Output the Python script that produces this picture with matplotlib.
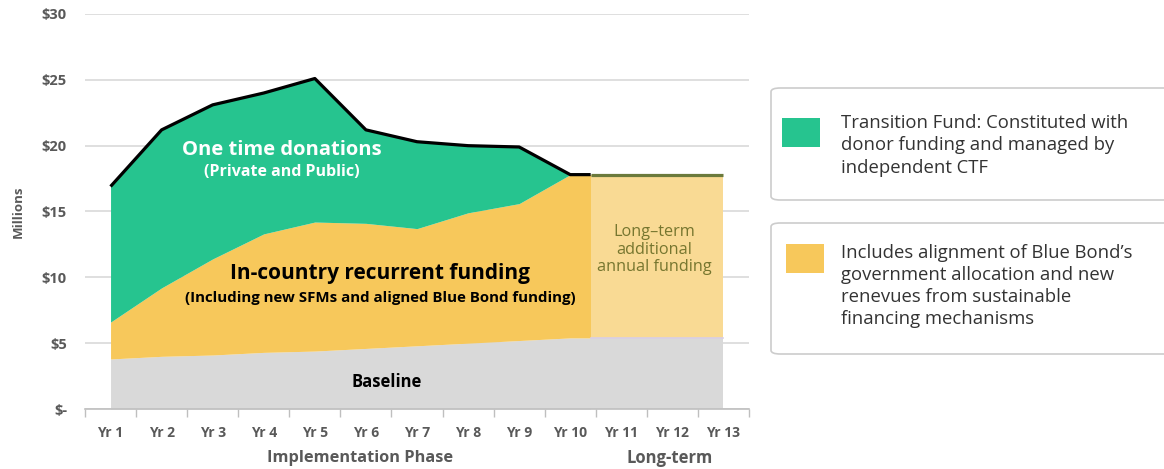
import matplotlib
matplotlib.use("Agg")
import matplotlib.pyplot as plt
from matplotlib.patches import FancyBboxPatch, Rectangle
import numpy as np

# Data (millions USD)
years = ['Yr 1', 'Yr 2', 'Yr 3', 'Yr 4', 'Yr 5', 'Yr 6', 'Yr 7',
         'Yr 8', 'Yr 9', 'Yr 10', 'Yr 11', 'Yr 12', 'Yr 13']
impl_years = years[:10]
baseline = [3.8, 4.0, 4.1, 4.3, 4.4, 4.6, 4.8, 5.0, 5.2, 5.4]
recurrent = [2.8, 5.2, 7.3, 9.0, 9.8, 9.5, 8.9, 9.9, 10.4, 12.4]
donations = [10.3, 12.0, 11.7, 10.7, 10.9, 7.1, 6.6, 5.1, 4.3, 0.0]
lt_years = years[10:]
lt_baseline = [5.4, 5.4, 5.4]
lt_additional = [12.4, 12.4, 12.4]
yticks = [0, 5, 10, 15, 20, 25, 30]
ytick_labels = ['$-', '$5', '$10', '$15', '$20', '$25', '$30']

GREEN = '#26c48f'
YELLOW = '#f7c85b'
LIGHT_YELLOW = '#f9da94'
GREY = '#d9d9d9'
OLIVE = '#6b7a3c'
TXT = '#595959'

plt.rcParams['font.family'] = ['Open Sans', 'DejaVu Sans']

fig = plt.figure(figsize=(11.64, 4.69), dpi=100)
ax = fig.add_axes([85 / 1164, 1 - 409 / 469, 664 / 1164, 395 / 469])

x = np.arange(len(impl_years))
base = np.array(baseline)
rec_top = base + np.array(recurrent)
tot = rec_top + np.array(donations)

# long-term block starts a bit after Yr 10
lt_start = 9.4
xl = np.concatenate([[lt_start], np.arange(len(impl_years), len(years))])
lt_b = np.concatenate([[lt_baseline[0]], lt_baseline])
lt_t = lt_b + np.concatenate([[lt_additional[0]], lt_additional])

# stretch the last implementation values flat up to the long-term block
xi = np.append(x, lt_start)
base_i = np.append(base, base[-1])
rec_i = np.append(rec_top, rec_top[-1])
tot_i = np.append(tot, tot[-1])

ax.fill_between(xi, 0, base_i, color=GREY, lw=0, zorder=2)
ax.fill_between(xi, base_i, rec_i, color=YELLOW, lw=0, zorder=2)
ax.fill_between(xi, rec_i, tot_i, color=GREEN, lw=0, zorder=2)
ax.fill_between(xl, 0, lt_b, color=GREY, lw=0, zorder=2)
ax.fill_between(xl, lt_b, lt_t, color=LIGHT_YELLOW, lw=0, zorder=2)
ax.plot(xl, lt_b, color='#d8cfe6', lw=1.2, zorder=3)
ax.plot(xi, tot_i, color='black', lw=2.3, zorder=4, solid_capstyle='butt')
ax.plot(xl, lt_t, color=OLIVE, lw=2.3, zorder=4, solid_capstyle='butt')

# axes styling
ax.set_xlim(-0.5, len(years) - 0.5)
ax.set_ylim(0, 30)
ax.set_yticks(yticks)
ax.set_yticklabels(ytick_labels)
ax.set_xticks(np.arange(len(years)))
ax.set_xticklabels(years)
ax.set_xticks(np.arange(len(years) + 1) - 0.5, minor=True)
ax.tick_params(axis='x', which='major', length=0, pad=12, labelsize=10, labelcolor=TXT)
ax.tick_params(axis='x', which='minor', length=6, width=1, color='#bfbfbf', direction='out')
ax.tick_params(axis='y', length=0, pad=13, labelsize=10.5, labelcolor=TXT)
for lab in ax.get_xticklabels() + ax.get_yticklabels():
    lab.set_fontweight('bold')
ax.grid(axis='y', color='#d9d9d9', lw=1.2, zorder=0)
ax.set_axisbelow(True)
for s in ['top', 'right', 'left']:
    ax.spines[s].set_visible(False)
ax.spines['bottom'].set_color('#bfbfbf')
ax.spines['bottom'].set_linewidth(1.2)

ax.set_ylabel('Millions', fontsize=9.5, fontweight='bold', color=TXT, labelpad=12)

# in-chart annotations
ax.text(3.35, 19.7, 'One time donations', color='white', fontsize=14.5,
        fontweight='bold', ha='center', va='center', zorder=5)
ax.text(3.35, 18.0, '(Private and Public)', color='white', fontsize=11.5,
        fontweight='bold', ha='center', va='center', zorder=5)
ax.text(5.28, 10.3, 'In-country recurrent funding', color='black', fontsize=15,
        fontweight='bold', ha='center', va='center', zorder=5)
ax.text(5.28, 8.4, '(Including new SFMs and aligned Blue Bond funding)', color='black',
        fontsize=10.8, fontweight='bold', ha='center', va='center', zorder=5)
ax.text(5.4, 2.05, 'Baseline', color='black', fontsize=12,
        fontweight='bold', ha='center', va='center', zorder=5)
ax.text(10.65, 12.1, 'Long\u2013term\nadditional\nannual funding', color='#76762f',
        fontsize=11.7, ha='center', va='center', linespacing=1.1, zorder=5)

fig.text(360 / 1164, 1 - 458 / 469, 'Implementation Phase', fontsize=11.8,
         fontweight='bold', color=TXT, ha='center', va='center')
fig.text(670 / 1164, 1 - 458 / 469, 'Long-term', fontsize=12,
         fontweight='bold', color=TXT, ha='center', va='center')

# legend boxes
W, H = 1164, 469


def box(x0, y0, x1, y1):
    p = FancyBboxPatch((x0 / W, 1 - y1 / H), (x1 - x0) / W, (y1 - y0) / H,
                       boxstyle='round,pad=0,rounding_size=0.008',
                       transform=fig.transFigure, fc='white', ec='#cccccc', lw=1.2)
    fig.patches.append(p)


def swatch(x0, y0, x1, y1, color):
    fig.patches.append(Rectangle((x0 / W, 1 - y1 / H), (x1 - x0) / W, (y1 - y0) / H,
                                 transform=fig.transFigure, fc=color, ec='none'))


box(771, 88, 1180, 200)
box(771, 223, 1180, 354)
swatch(782, 118, 820, 147, GREEN)
swatch(786, 244, 824, 273, YELLOW)

legend1 = ['Transition Fund: Constituted with', 'donor funding and managed by',
           'independent CTF']
legend2 = ['Includes alignment of Blue Bond\u2019s', 'government allocation and new',
           'renevues from sustainable', 'financing mechanisms']
for i, line in enumerate(legend1):
    fig.text(841 / W, 1 - (123 + 22.5 * i) / H, line, fontsize=13.3, color='#333333',
             ha='left', va='center')
for i, line in enumerate(legend2):
    fig.text(841 / W, 1 - (253 + 22 * i) / H, line, fontsize=13.3, color='#333333',
             ha='left', va='center')

fig.savefig('out.png', dpi=100)
